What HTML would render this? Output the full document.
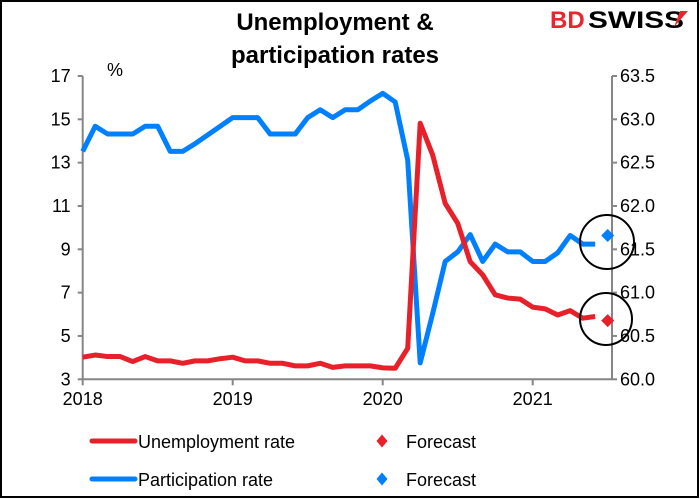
<!DOCTYPE html>
<html><head><meta charset="utf-8"><style>
html,body{margin:0;padding:0;background:#fff}
svg{display:block;font-family:"Liberation Sans",Arial,sans-serif}
</style></head><body>
<svg id="chart" width="700" height="499" viewBox="0 0 700 499">
<rect x="1" y="1" width="697" height="496" fill="#fff" stroke="#000" stroke-width="2"/>
<text x="335" y="30" text-anchor="middle" font-size="24" font-weight="bold">Unemployment &amp;</text>
<text x="335" y="63" text-anchor="middle" font-size="24" font-weight="bold">participation rates</text>
<g>
<text x="550" y="28" font-size="24" font-weight="bold" fill="#e8262d">BD</text>
<text x="588" y="28" font-size="24" font-weight="bold" fill="#000" textLength="96" lengthAdjust="spacingAndGlyphs">SWISS</text>
<path d="M680 11 L688 11 L674 27 Z" fill="#e8262d"/>
</g>
<text x="107" y="76" font-size="18">%</text>
<g id="axes"></g>
<g id="series"></g>
<circle cx="607" cy="242" r="27" fill="none" stroke="#000" stroke-width="2"/>
<circle cx="606" cy="319" r="26" fill="none" stroke="#000" stroke-width="2"/>
<g>
<line x1="92" y1="441" x2="135" y2="441" stroke="#e8202a" stroke-width="5" stroke-linecap="round"/>
<text x="138" y="448" font-size="18">Unemployment rate</text>
<path d="M382 434.5 L387.5 441 L382 447.5 L376.5 441 Z" fill="#e8202a"/>
<text x="406" y="448" font-size="18">Forecast</text>
<line x1="92" y1="479" x2="135" y2="479" stroke="#0080ff" stroke-width="5" stroke-linecap="round"/>
<text x="138" y="486" font-size="18">Participation rate</text>
<path d="M382 472.5 L387.5 479 L382 485.5 L376.5 479 Z" fill="#0080ff"/>
<text x="406" y="486" font-size="18">Forecast</text>
</g>
</svg>
<script>
const unemployment = [4.02,4.12,4.05,4.05,3.82,4.05,3.85,3.85,3.74,3.85,3.85,3.95,4.02,3.85,3.85,3.74,3.74,3.62,3.62,3.74,3.55,3.62,3.62,3.62,3.53,3.51,4.43,14.82,13.35,11.12,10.2,8.43,7.82,6.9,6.75,6.7,6.33,6.25,5.97,6.17,5.82,5.9];
const participation = [62.63,62.92,62.83,62.83,62.83,62.92,62.92,62.63,62.63,62.72,62.82,62.92,63.02,63.02,63.02,62.83,62.83,62.83,63.02,63.11,63.02,63.11,63.11,63.21,63.3,63.2,62.53,60.19,60.76,61.36,61.47,61.67,61.36,61.56,61.47,61.47,61.36,61.36,61.46,61.66,61.56,61.56];
const unemploymentForecast = 5.71;
const participationForecast = 61.66;
const forecastIndex = 42;
const leftTicks = [3,5,7,9,11,13,15,17];
const rightTicks = ["60.0","60.5","61.0","61.5","62.0","62.5","63.0","63.5"];
const yearLabels = ["2018","2019","2020","2021"];

const X0=82.7, MONTH=12.5, YT=76, YB=379.3, XR=612;
const xScale = i => X0 + i*MONTH;
const yLeft = v => YB - (v-3)/(17-3)*(YB-YT);
const yRight = v => YB - (v-60)/(63.5-60)*(YB-YT);
const NS="http://www.w3.org/2000/svg";
function mk(tag, attrs, parent){const e=document.createElementNS(NS,tag);for(const k in attrs)e.setAttribute(k,attrs[k]);parent.appendChild(e);return e;}
const axes=document.getElementById('axes'), series=document.getElementById('series');
const G="#868686";
let e;
e=mk('line',{x1:X0,y1:YT,x2:X0,y2:YB,stroke:G,'stroke-width':2},axes);


e=mk('line',{x1:XR,y1:YT,x2:XR,y2:YB,stroke:G,'stroke-width':2},axes);


e=mk('line',{x1:X0,y1:YB,x2:XR,y2:YB,stroke:G,'stroke-width':2},axes);


leftTicks.forEach(v=>{
  const y=yLeft(v);
  mk('line',{x1:X0-5,y1:y,x2:X0,y2:y,stroke:G,'stroke-width':2},axes);
  e=mk('text',{x:X0-12,y:y+6,'text-anchor':'end','font-size':18},axes);
  e.textContent=v;
  
  
});
rightTicks.forEach(t=>{
  const y=yRight(parseFloat(t));
  mk('line',{x1:XR,y1:y,x2:XR+5,y2:y,stroke:G,'stroke-width':2},axes);
  e=mk('text',{x:XR+8,y:y+6,'font-size':18},axes);
  e.textContent=t;
  
  
});
yearLabels.forEach((t,k)=>{
  const x=xScale(k*12);
  mk('line',{x1:x,y1:YB,x2:x,y2:YB+6,stroke:G,'stroke-width':2},axes);
  e=mk('text',{x:x,y:405,'text-anchor':'middle','font-size':18},axes);
  e.textContent=t;
  
  
});
e=mk('polyline',{points:participation.map((v,i)=>xScale(i)+','+yRight(v)).join(' '),fill:'none',stroke:'#0080ff','stroke-width':5,'stroke-linejoin':'round'},series);


e=mk('polyline',{points:unemployment.map((v,i)=>xScale(i)+','+yLeft(v)).join(' '),fill:'none',stroke:'#e8202a','stroke-width':5,'stroke-linejoin':'round'},series);


function diamond(cx,cy,c){return mk('path',{d:`M${cx} ${cy-6.5} L${cx+6.5} ${cy} L${cx} ${cy+6.5} L${cx-6.5} ${cy} Z`,fill:c},series);}
e=diamond(xScale(forecastIndex),yRight(participationForecast),'#0080ff');


e=diamond(xScale(forecastIndex),yLeft(unemploymentForecast),'#e8202a');


</script>
</body></html>
